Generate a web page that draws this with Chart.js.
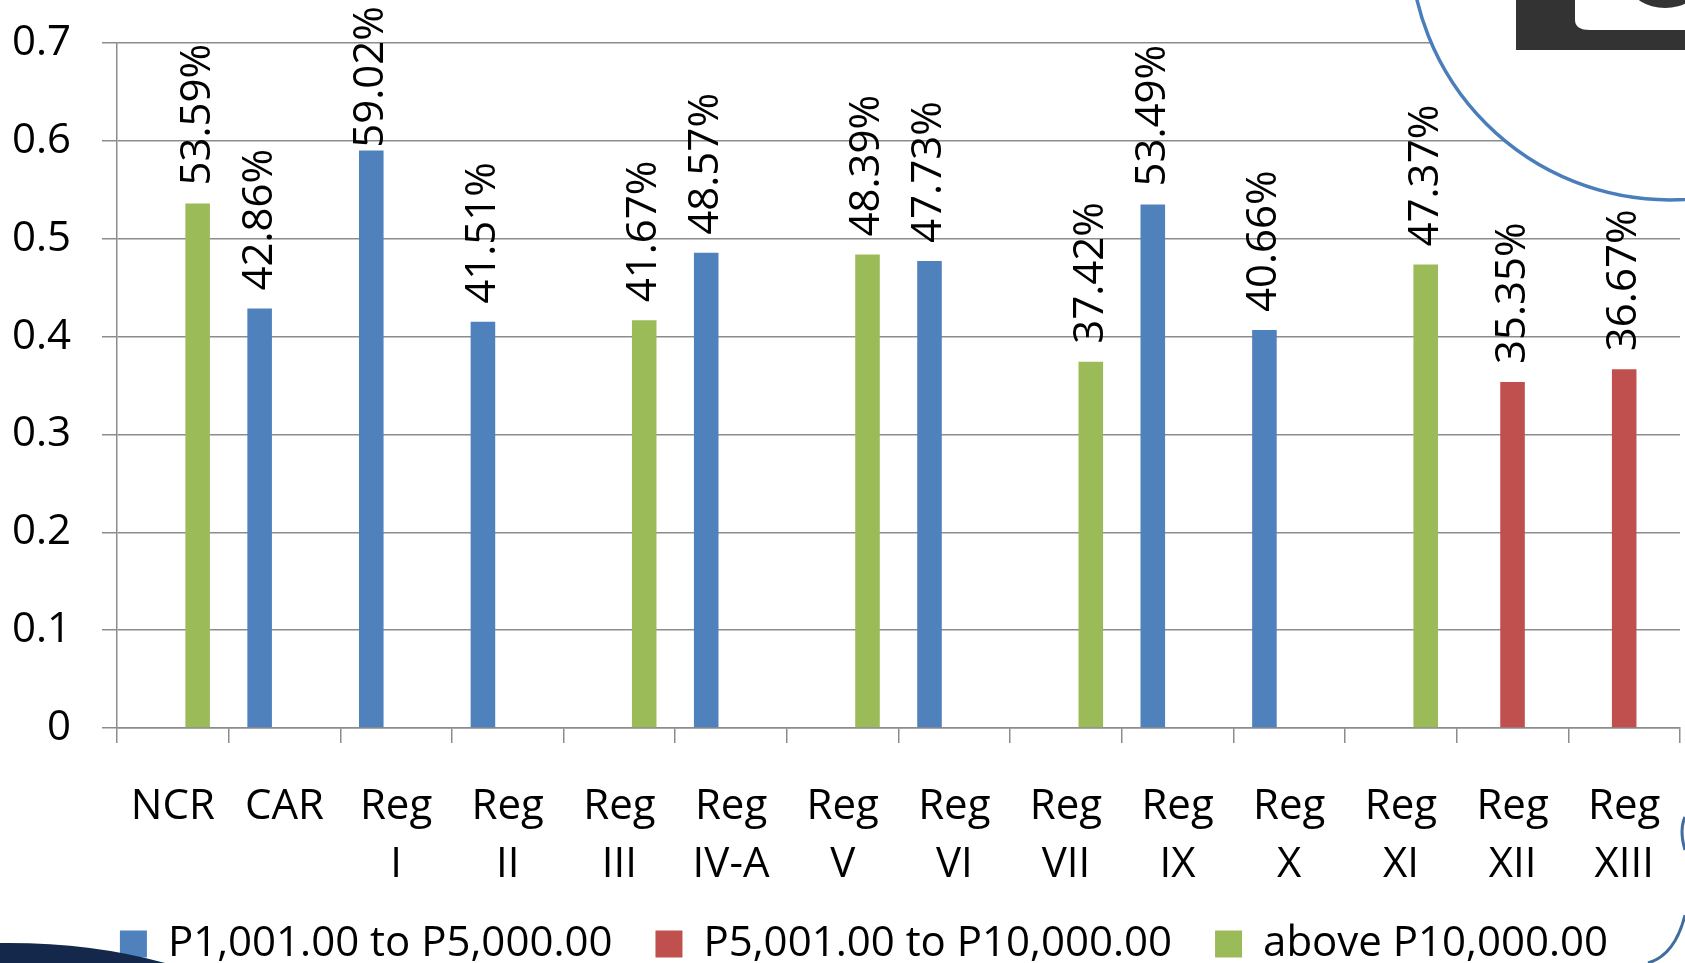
<!DOCTYPE html>
<html>
<head>
<meta charset="utf-8">
<script src="https://cdn.jsdelivr.net/npm/chart.js@4/dist/chart.umd.min.js"></script>
<style>
  html, body { margin: 0; padding: 0; background: #fff; }
  #wrap { width: 1685px; height: 963px; position: relative; }
</style>
</head>
<body>
<div id="wrap"><canvas id="myChart"></canvas></div>
<script>
// categories (regions), two-line tick labels
const regions = [
  ["NCR"], ["CAR"], ["Reg", "I"], ["Reg", "II"], ["Reg", "III"], ["Reg", "IV-A"],
  ["Reg", "V"], ["Reg", "VI"], ["Reg", "VII"], ["Reg", "IX"], ["Reg", "X"],
  ["Reg", "XI"], ["Reg", "XII"], ["Reg", "XIII"],
];

// share of respondents in the most common income bracket, per region
const lowIncome = [null, 0.4286, 0.5902, 0.4151, null, 0.4857, null, 0.4773, null, 0.5349, 0.4066, null, null, null];
const midIncome = [null, null, null, null, null, null, null, null, null, null, null, null, 0.3535, 0.3667];
const highIncome = [0.5359, null, null, null, 0.4167, null, 0.4839, null, 0.3742, null, null, 0.4737, null, null];

const seriesNames = ["P1,001.00 to P5,000.00", "P5,001.00 to P10,000.00", "above P10,000.00"];
const yTicks = [0, 0.1, 0.2, 0.3, 0.4, 0.5, 0.6, 0.7];

const FONT = "'Open Sans', 'Noto Sans', sans-serif";
Chart.defaults.font.family = FONT;
Chart.defaults.color = "#000";

const gridColor = "#8c8c8c";

// vertical percentage labels above each bar
const barLabels = {
  id: "barLabels",
  afterDatasetsDraw(chart) {
    const ctx = chart.ctx;
    ctx.save();
    ctx.font = "42px " + FONT;
    ctx.fillStyle = "#000";
    ctx.textAlign = "left";
    ctx.textBaseline = "middle";
    chart.data.datasets.forEach((ds, i) => {
      chart.getDatasetMeta(i).data.forEach((bar, j) => {
        const v = ds.data[j];
        if (v == null) return;
        const txt = (v * 100).toFixed(2) + "%";
        const w = ctx.measureText(txt).width;
        let y = bar.y - 18;
        if (y - w < 6) y = 6 + w;
        ctx.save();
        ctx.translate(bar.x, y);
        ctx.rotate(-Math.PI / 2);
        ctx.fillText(txt, 0, 0);
        ctx.restore();
      });
    });
    ctx.restore();
  },
};

// nudge the legend right like the original slide
const legendShift = {
  id: "legendShift",
  afterLayout(chart) {
    const lg = chart.legend;
    if (!lg) return;
    lg.left += 18;
    lg.right += 18;
  },
};

// slide decorations around the chart
const slideDeco = {
  id: "slideDeco",
  afterDraw(chart) {
    const ctx = chart.ctx;
    ctx.save();
    // circle top right
    ctx.beginPath();
    ctx.arc(1670, -60, 260, 0, Math.PI * 2);
    ctx.fillStyle = "#fff";
    ctx.fill();
    ctx.lineWidth = 3.5;
    ctx.strokeStyle = "#4a7ebb";
    ctx.stroke();
    // logo piece
    ctx.fillStyle = "#333";
    ctx.fillRect(1516, 0, 169, 50);
    ctx.fillStyle = "#fff";
    ctx.beginPath();
    ctx.moveTo(1575, 0);
    ctx.lineTo(1575, 20);
    ctx.quadraticCurveTo(1575, 30, 1590, 30);
    ctx.lineTo(1685, 30);
    ctx.lineTo(1685, 0);
    ctx.closePath();
    ctx.fill();
    ctx.fillStyle = "#333";
    ctx.beginPath();
    ctx.arc(1545, 5, 16, 0, Math.PI * 2);
    ctx.fill();
    ctx.beginPath();
    ctx.ellipse(1665, -14, 34, 22, 0, 0, Math.PI * 2);
    ctx.fill();
    // navy swoosh bottom left
    ctx.fillStyle = "#13284a";
    ctx.beginPath();
    ctx.moveTo(0, 943);
    ctx.quadraticCurveTo(90, 942, 165, 963);
    ctx.lineTo(0, 963);
    ctx.closePath();
    ctx.fill();
    // blue strokes bottom right
    ctx.strokeStyle = "#3f6d9e";
    ctx.lineWidth = 3;
    ctx.beginPath();
    ctx.moveTo(1685, 817);
    ctx.quadraticCurveTo(1679, 830, 1685, 850);
    ctx.stroke();
    ctx.beginPath();
    ctx.moveTo(1648, 963);
    ctx.quadraticCurveTo(1675, 955, 1685, 915);
    ctx.stroke();
    ctx.restore();
  },
};

const config = {
  type: "bar",
  data: {
    labels: regions,
    datasets: [
      { label: seriesNames[0], data: lowIncome, backgroundColor: "#4f81bd" },
      { label: seriesNames[1], data: midIncome, backgroundColor: "#c0504d" },
      { label: seriesNames[2], data: highIncome, backgroundColor: "#9bbb59" },
    ],
  },
  options: {
    responsive: true,
    maintainAspectRatio: false,
    animation: false,
    categoryPercentage: 0.667,
    barPercentage: 0.99,
    layout: { padding: { left: 12, right: 5, top: 43, bottom: -12 } },
    plugins: {
      tooltip: { enabled: false },
      legend: {
        position: "bottom",
        labels: {
          boxWidth: 27,
          boxHeight: 27,
          padding: 43,
          font: { size: 42 },
          color: "#000",
        },
      },
    },
    scales: {
      x: {
        offset: true,
        grid: {
          offset: true,
          drawOnChartArea: false,
          tickLength: 15,
          color: gridColor,
          lineWidth: 1.5,
        },
        border: { color: gridColor, width: 1.5 },
        ticks: {
          autoSkip: false,
          maxRotation: 0,
          padding: 35,
          font: { size: 42, lineHeight: 1.38 },
          color: "#000",
        },
        afterFit: (scale) => {
          scale.height = 152;
          scale.paddingLeft = 0;
          scale.paddingRight = 0;
        },
      },
      y: {
        min: 0,
        max: 0.7,
        afterBuildTicks: (scale) => { scale.ticks = yTicks.map((v) => ({ value: v })); },
        grid: { color: gridColor, lineWidth: 1.5, tickLength: 15 },
        border: { color: gridColor, width: 1.5 },
        ticks: {
          padding: 31,
          font: { size: 42 },
          color: "#000",
          callback: (v) => (v === 0 ? "0" : v.toFixed(1)),
        },
        afterFit: (scale) => {
          scale.width = 105;
          scale.paddingTop = 0;
          scale.paddingBottom = 0;
        },
      },
    },
  },
  plugins: [barLabels, legendShift, slideDeco],
};

new Chart(document.getElementById("myChart"), config);
</script>
</body>
</html>
